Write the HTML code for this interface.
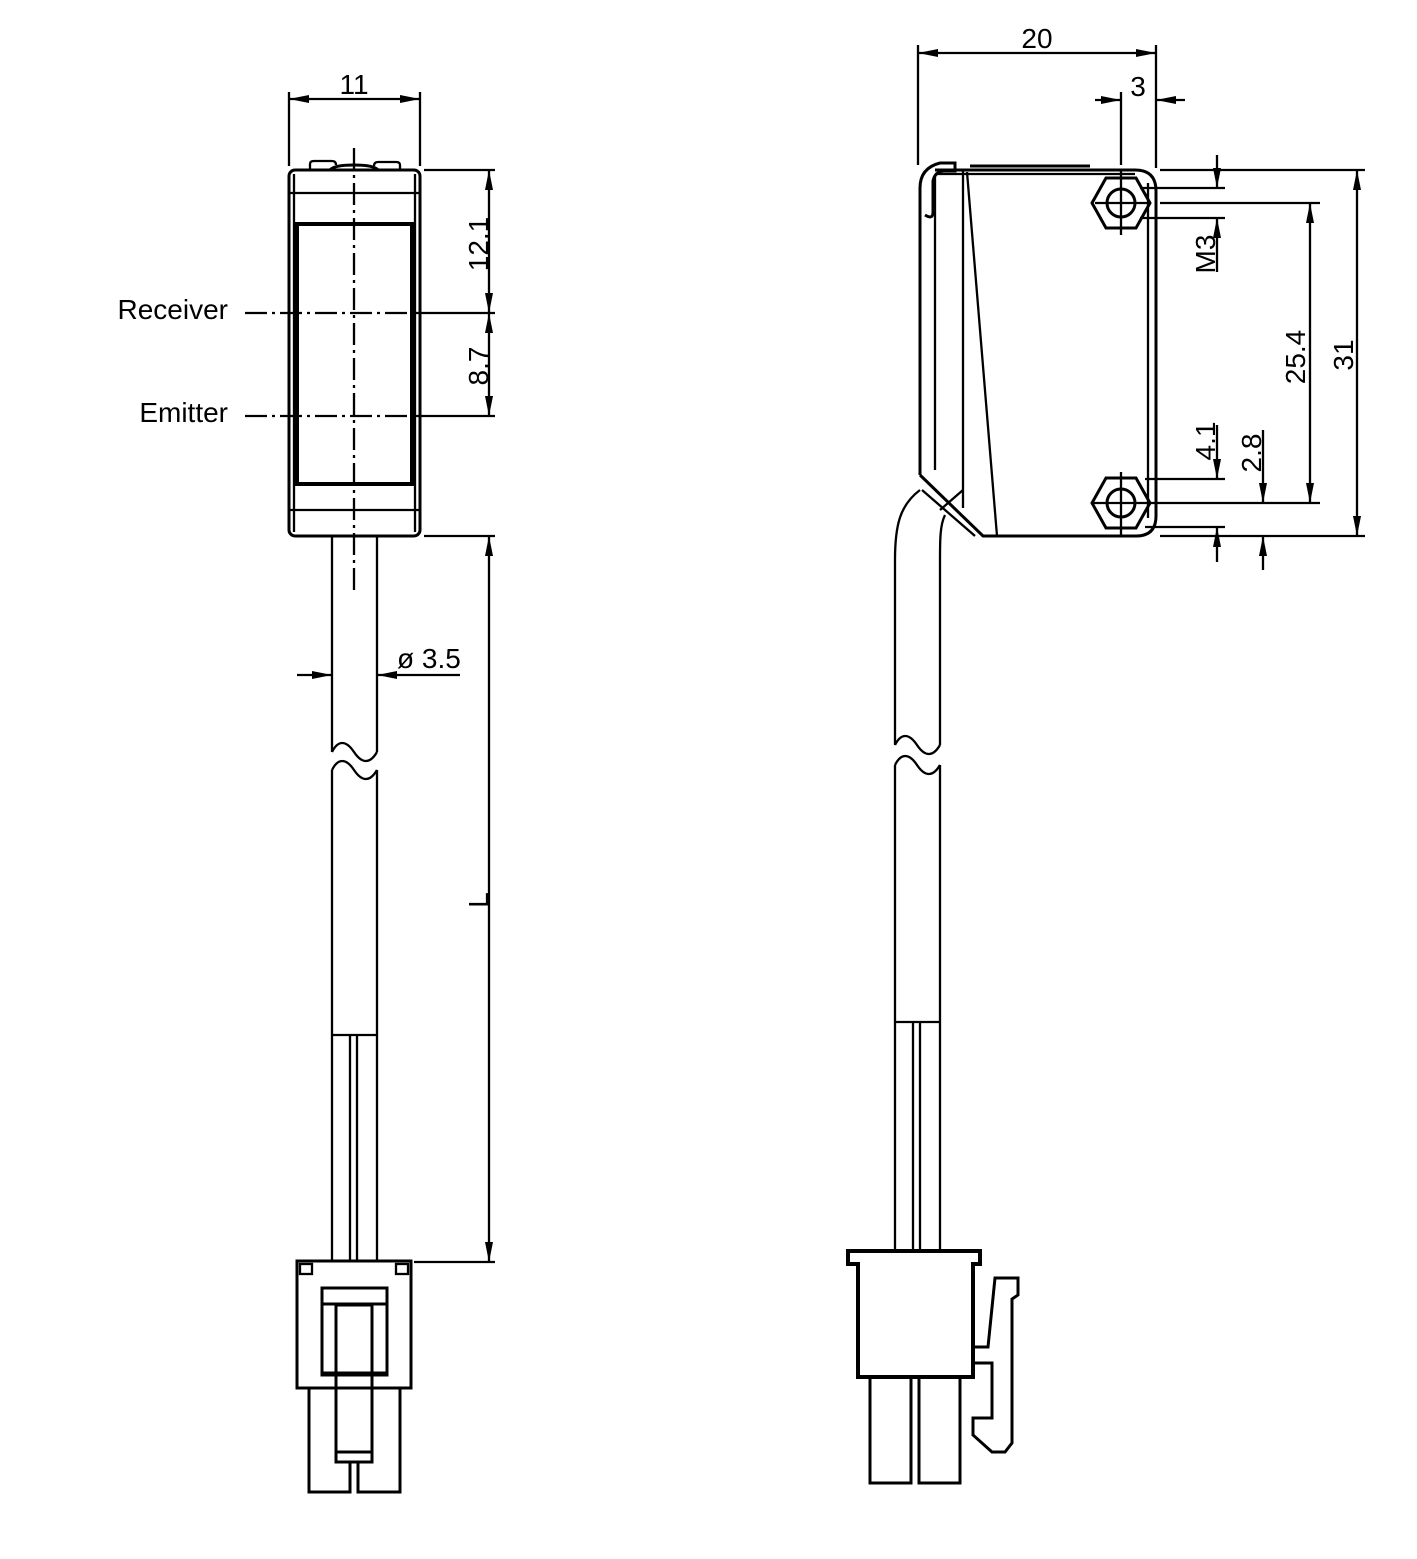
<!DOCTYPE html>
<html><head><meta charset="utf-8"><style>html,body{margin:0;padding:0;background:#fff}svg{display:block}</style></head>
<body>
<svg width="1417" height="1559" viewBox="0 0 1417 1559" xmlns="http://www.w3.org/2000/svg" font-family="Liberation Sans, sans-serif" font-size="28">
<defs>
<marker id="a" viewBox="0 0 20 8" refX="20" refY="4" markerWidth="20" markerHeight="8" markerUnits="userSpaceOnUse" orient="auto-start-reverse"><path d="M0,0 L20,4 L0,8 z" fill="#000"/></marker>
</defs>
<g fill="none" stroke="#000" stroke-width="2.3">
<!-- LEFT VIEW -->
<path d="M310,170 v-6 q0,-3 4,-3 h18 q4,0 4,4 M374,166 q0,-4 4,-4 h18 q4,0 4,3 v5" />
<path d="M330,170 q4,-5 24,-5 q20,0 24,5" stroke-width="3"/>
<rect x="289" y="170" width="131" height="366" rx="6" stroke-width="3"/>
<line x1="294" y1="174" x2="294" y2="532"/><line x1="415" y1="174" x2="415" y2="532"/>
<line x1="290" y1="193" x2="419" y2="193"/>
<rect x="297" y="224" width="115" height="260" stroke-width="4"/>
<line x1="290" y1="510" x2="419" y2="510"/>
<line x1="354" y1="148" x2="354" y2="592" stroke-dasharray="22,5,3,5"/>
<line x1="245" y1="313" x2="415" y2="313" stroke-dasharray="22,5,3,5"/>
<line x1="415" y1="313" x2="495" y2="313"/>
<line x1="245" y1="416" x2="415" y2="416" stroke-dasharray="22,5,3,5"/>
<line x1="415" y1="416" x2="495" y2="416"/>
<!-- dim 11 -->
<line x1="289" y1="92" x2="289" y2="166"/><line x1="420" y1="92" x2="420" y2="166"/>
<line x1="289" y1="99" x2="420" y2="99" marker-start="url(#a)" marker-end="url(#a)"/>
<!-- 12.1 / 8.7 -->
<line x1="424" y1="170" x2="495" y2="170"/>
<line x1="489" y1="170" x2="489" y2="313" marker-start="url(#a)" marker-end="url(#a)"/>
<line x1="489" y1="313" x2="489" y2="416" marker-start="url(#a)" marker-end="url(#a)"/>
<!-- cable -->
<path d="M332,536 V752 M377,536 V752"/>
<path d="M332,752 c6,-12 14,-12 22,0 c8,12 16,12 23,0"/>
<path d="M332,770 c6,-12 14,-12 22,0 c8,12 16,12 23,0"/>
<path d="M332,770 V1035 M377,770 V1035"/>
<line x1="332" y1="1035" x2="377" y2="1035"/>
<path d="M332,1035 V1262 M377,1035 V1262 M350,1035 V1262 M357,1035 V1262"/>
<!-- ø3.5 -->
<line x1="297" y1="675" x2="332" y2="675" marker-end="url(#a)"/>
<line x1="460" y1="675" x2="377" y2="675" marker-end="url(#a)"/>
<!-- L -->
<line x1="424" y1="536" x2="495" y2="536"/>
<line x1="414" y1="1262" x2="495" y2="1262"/>
<line x1="489" y1="536" x2="489" y2="1262" marker-start="url(#a)" marker-end="url(#a)"/>
<!-- left connector -->
<rect x="297" y="1261" width="114" height="127" stroke-width="3"/>
<rect x="300" y="1264" width="12" height="10"/><rect x="396" y="1264" width="12" height="10"/>
<rect x="322" y="1288" width="65" height="87" stroke-width="3"/>
<line x1="322" y1="1304" x2="387" y2="1304" stroke-width="3"/>
<line x1="322" y1="1373" x2="387" y2="1373" stroke-width="3"/>
<rect x="336" y="1305" width="36" height="157" stroke-width="3"/>
<line x1="336" y1="1452" x2="372" y2="1452" stroke-width="3"/>
<path d="M309,1388 V1492 H350 V1462 M358,1462 V1492 H400 V1388" stroke-width="3"/>

<!-- RIGHT VIEW -->
<path d="M920,475 V188 q0,-20 20,-25 h15 v8 h-10 q-10,0 -12,10 V212 q0,8 -8,3" stroke-width="3"/>
<line x1="935" y1="175" x2="935" y2="470"/>
<line x1="963" y1="170" x2="963" y2="508"/>
<line x1="935" y1="170" x2="1135" y2="170" stroke-width="3"/>
<line x1="970" y1="166" x2="1090" y2="166" stroke-width="3"/>
<line x1="936" y1="174" x2="1135" y2="174"/>
<path d="M1135,170 q21,0 21,21 V516 q0,20 -20,20" stroke-width="3"/>
<path d="M1148,183 V518"/>
<line x1="967" y1="172" x2="997" y2="536"/>
<path d="M920,475 L983,536 H1136" stroke-width="3"/>
<path d="M922,490 L975,536"/>
<path d="M940,510 L963,490"/>
<!-- nuts -->
<polygon points="1092,203 1106,178 1136,178 1150,203 1136,228 1106,228" stroke-width="3"/>
<circle cx="1121" cy="203" r="14" stroke-width="3"/>
<polygon points="1092,503 1106,478 1136,478 1150,503 1136,528 1106,528" stroke-width="3"/>
<circle cx="1121" cy="503" r="14" stroke-width="3"/>
<line x1="1121" y1="170" x2="1121" y2="235"/><line x1="1095" y1="203" x2="1150" y2="203"/>
<line x1="1121" y1="472" x2="1121" y2="536"/><line x1="1092" y1="503" x2="1150" y2="503"/>
<!-- cable right -->
<path d="M920,490 C900,505 895,525 895,560 V745"/>
<path d="M945,515 C940,525 940,540 940,560 V745"/>
<path d="M895,745 c6,-12 14,-12 22,0 c8,12 16,12 23,0"/>
<path d="M895,765 c6,-12 14,-12 22,0 c8,12 16,12 23,0"/>
<path d="M895,765 V1022 M940,765 V1022"/>
<line x1="895" y1="1022" x2="940" y2="1022"/>
<path d="M895,1022 V1252 M940,1022 V1252 M913,1022 V1252 M920,1022 V1252"/>
<!-- right connector -->
<path d="M848,1251 H980 V1264 H973 V1377 H858 V1264 H848 Z" stroke-width="4"/>
<path d="M870,1377 V1483 H911 V1377 M919,1377 V1483 H960 V1377" stroke-width="3"/>
<path d="M973,1347 H988 L995,1278 H1018 V1295 L1012,1299 V1443 L1005,1452 H992 L973,1435 V1418 H992 V1363 H973" stroke-width="3"/>
<!-- dims right -->
<line x1="918" y1="45" x2="918" y2="165"/><line x1="1156" y1="45" x2="1156" y2="168"/>
<line x1="918" y1="53" x2="1156" y2="53" marker-start="url(#a)" marker-end="url(#a)"/>
<line x1="1121" y1="92" x2="1121" y2="165"/>
<line x1="1095" y1="100" x2="1121" y2="100" marker-end="url(#a)"/>
<line x1="1185" y1="100" x2="1156" y2="100" marker-end="url(#a)"/>
<line x1="1160" y1="170" x2="1365" y2="170"/>
<line x1="1140" y1="188" x2="1225" y2="188"/>
<line x1="1140" y1="218" x2="1225" y2="218"/>
<line x1="1160" y1="203" x2="1320" y2="203"/>
<line x1="1217" y1="155" x2="1217" y2="188" marker-end="url(#a)"/>
<line x1="1217" y1="272" x2="1217" y2="218" marker-end="url(#a)"/>
<line x1="1310" y1="203" x2="1310" y2="503" marker-start="url(#a)" marker-end="url(#a)"/>
<line x1="1357" y1="170" x2="1357" y2="536" marker-start="url(#a)" marker-end="url(#a)"/>
<line x1="1145" y1="479" x2="1225" y2="479"/>
<line x1="1150" y1="503" x2="1320" y2="503"/>
<line x1="1145" y1="527" x2="1225" y2="527"/>
<line x1="1160" y1="536" x2="1365" y2="536"/>
<line x1="1217" y1="425" x2="1217" y2="479" marker-end="url(#a)"/>
<line x1="1217" y1="562" x2="1217" y2="527" marker-end="url(#a)"/>
<line x1="1263" y1="430" x2="1263" y2="503" marker-end="url(#a)"/>
<line x1="1263" y1="570" x2="1263" y2="536" marker-end="url(#a)"/>
</g>
<g fill="#000">
<text x="354" y="94" text-anchor="middle">11</text>
<text x="228" y="319" text-anchor="end">Receiver</text>
<text x="228" y="422" text-anchor="end">Emitter</text>
<text transform="translate(488,244) rotate(-90)" text-anchor="middle">12.1</text>
<text transform="translate(488,366) rotate(-90)" text-anchor="middle">8.7</text>
<text x="397" y="668">ø 3.5</text>
<text transform="translate(488,900) rotate(-90)" text-anchor="middle">L</text>
<text x="1037" y="48" text-anchor="middle">20</text>
<text x="1138" y="96" text-anchor="middle">3</text>
<text transform="translate(1215,254) rotate(-90)" text-anchor="middle">M3</text>
<text transform="translate(1305,357) rotate(-90)" text-anchor="middle">25.4</text>
<text transform="translate(1353,355) rotate(-90)" text-anchor="middle">31</text>
<text transform="translate(1215,441) rotate(-90)" text-anchor="middle">4.1</text>
<text transform="translate(1261,453) rotate(-90)" text-anchor="middle">2.8</text>
</g>
</svg>
</body></html>
